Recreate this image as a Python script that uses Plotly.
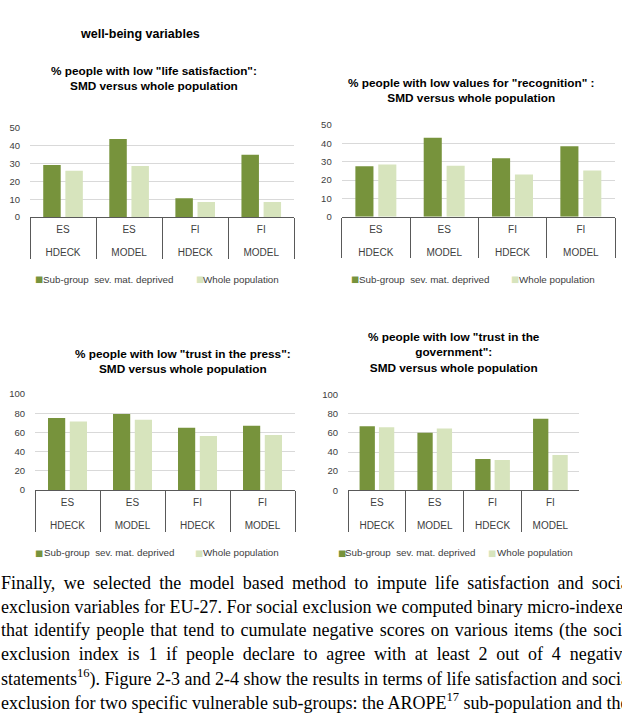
import plotly.graph_objects as go

W, H = 622, 727

# ---------------- data ----------------
countries = ["ES", "ES", "FI", "FI"]
methods = ["HDECK", "MODEL", "HDECK", "MODEL"]
series_names = ["Sub-group  sev. mat. deprived", "Whole population"]

life_smd = [29.2, 43.9, 10.6, 35.0]
life_all = [26.1, 28.7, 8.5, 8.5]
recog_smd = [27.6, 43.2, 31.9, 38.5]
recog_all = [28.5, 27.8, 23.1, 25.3]
press_smd = [75.0, 79.1, 64.8, 67.1]
press_all = [71.5, 73.3, 56.3, 57.3]
gov_smd = [67.0, 60.1, 32.7, 74.9]
gov_all = [66.0, 64.6, 31.6, 36.8]

titles = [
    '% people with low "life satisfaction":<br>SMD versus whole population',
    '% people with low values for "recognition" :<br>SMD versus whole population',
    '% people with low "trust in the press":<br>SMD versus whole population',
    '% people with low "trust in the<br>government":<br>SMD versus whole population',
]
y_max = [50, 50, 100, 100]
y_step = [10, 10, 20, 20]

paragraph = [
    "Finally, we selected the model based method to impute life satisfaction and social",
    "exclusion variables for EU-27. For social exclusion we computed binary micro-indexes",
    "that identify people that tend to cumulate negative scores on various items (the social",
    "exclusion index is 1 if people declare to agree with at least 2 out of 4 negative",
    "statements<sup>16</sup>). Figure 2-3 and 2-4 show the results in terms of life satisfaction and social",
    "exclusion for two specific vulnerable sub-groups: the AROPE<sup>17</sup> sub-population and the",
]
# extra spacing between words of each justified line (px)
word_gap = [3.8, 0.0, 1.6, 4.3, 0.0, 0.0]

# ---------------- style / layout ----------------
DARK = "#77933C"
LIGHT = "#D7E4BD"
GRID = "#D9D9D9"
AXIS = "#595959"
TXT = "#404040"
SANS = "Liberation Sans, Arial, sans-serif"
SERIF = "Liberation Serif, Times New Roman, serif"

# plot-area boxes in pixels: left, right, top, bottom
boxes = [
    (30.0, 294.3, 124.0, 214.3),
    (341.7, 615.0, 121.0, 214.0),
    (35.0, 295.0, 394.0, 491.5),
    (348.0, 579.3, 394.7, 491.7),
]
title_pos = [(154, 73.4), (471, 86.3), (183, 361.2), (454.3, 351.7)]
# (square left, text left) for both legend entries, and the row's centre y
legend_pos = [
    ((35.0, 42.7), (195.7, 201.9), 277.3),
    ((350.3, 358.7), (511.0, 518.3), 277.3),
    ((35.0, 43.0), (195.0, 202.3), 555.0),
    ((337.7, 344.5), (487.7, 496.0), 555.0),
]

def px(x):
    return x / W

def py(y):
    return 1 - y / H

# keep the four categories in order on a multicategory axis (outer level made unique)
outer = ["<br>" + m + ("" if i < 2 else "\u200b") for i, m in enumerate(methods)]

data_pairs = [(life_smd, life_all), (recog_smd, recog_all),
              (press_smd, press_all), (gov_smd, gov_all)]

fig = go.Figure()
layout = dict(
    width=W, height=H,
    margin=dict(l=0, r=0, t=0, b=0),
    paper_bgcolor="white", plot_bgcolor="white",
    font=dict(family=SANS, color=TXT),
    barmode="group", bargap=0.33, bargroupgap=0.21,
    showlegend=False,
)

annotations = []
for k, (smd, allp) in enumerate(data_pairs):
    sfx = "" if k == 0 else str(k + 1)
    xa, ya = "x" + sfx, "y" + sfx
    for vals, col, name in ((smd, DARK, series_names[0]), (allp, LIGHT, series_names[1])):
        fig.add_trace(go.Bar(x=[outer, countries], y=vals, name=name,
                             marker=dict(color=col, line=dict(width=0)),
                             xaxis=xa, yaxis=ya, showlegend=False))
    l, r, t, b = boxes[k]
    layout["xaxis" + sfx] = dict(
        domain=[px(l), px(r)], anchor=ya, type="multicategory",
        showline=True, linecolor=AXIS, linewidth=1,
        showdividers=True, dividercolor=AXIS, dividerwidth=1,
        ticks="", showgrid=False, ticklabelstandoff=3,
        tickfont=dict(size=10, color=TXT, family=SANS),
    )
    layout["yaxis" + sfx] = dict(
        domain=[py(b), py(t)], anchor=xa, range=[0, y_max[k]], dtick=y_step[k],
        showgrid=True, gridcolor=GRID, gridwidth=1, zeroline=False, showline=False,
        ticks="", ticklabelstandoff=9,
        tickfont=dict(size=9.5, color=TXT, family=SANS),
    )
    tx, ty = title_pos[k]
    annotations.append(dict(
        x=px(tx), y=py(ty), xref="paper", yref="paper", xanchor="center", yanchor="middle",
        text="<b>" + titles[k] + "</b>", showarrow=False,
        font=dict(size=11.8, color="#000000", family=SANS),
    ))
    (s1, t1), (s2, t2), ly = legend_pos[k]
    for (sq, tl), col, name in zip(((s1, t1), (s2, t2)), (DARK, LIGHT), series_names):
        annotations.append(dict(
            x=px(sq - 0.8), y=py(ly), xref="paper", yref="paper", xanchor="left", yanchor="middle",
            text="\u25A0", showarrow=False, borderpad=0,
            font=dict(size=8.5, color=col, family="DejaVu Sans"),
        ))
        annotations.append(dict(
            x=px(tl - 0.4), y=py(ly), xref="paper", yref="paper", xanchor="left", yanchor="middle",
            text=name.replace("  ", "&nbsp; "), showarrow=False, borderpad=0,
            font=dict(size=9.8, color=TXT, family=SANS),
        ))

annotations.append(dict(
    x=px(78), y=py(28), xref="paper", yref="paper", xanchor="left", yanchor="middle",
    text="<b>well-being variables</b>", showarrow=False,
    font=dict(size=12.5, color="#000000", family=SANS),
))

for i, line in enumerate(paragraph):
    txt = line
    if word_gap[i]:
        txt = "<span style='word-spacing:%.1fpx'>%s</span>" % (word_gap[i], line)
    annotations.append(dict(
        x=px(-1), y=py(586 + 24 * i), xref="paper", yref="paper", xanchor="left", yanchor="middle",
        text=txt, showarrow=False,
        font=dict(size=18, color="#000000", family=SERIF),
    ))

layout["annotations"] = annotations
fig.update_layout(**layout)
fig.write_html("out.html")
